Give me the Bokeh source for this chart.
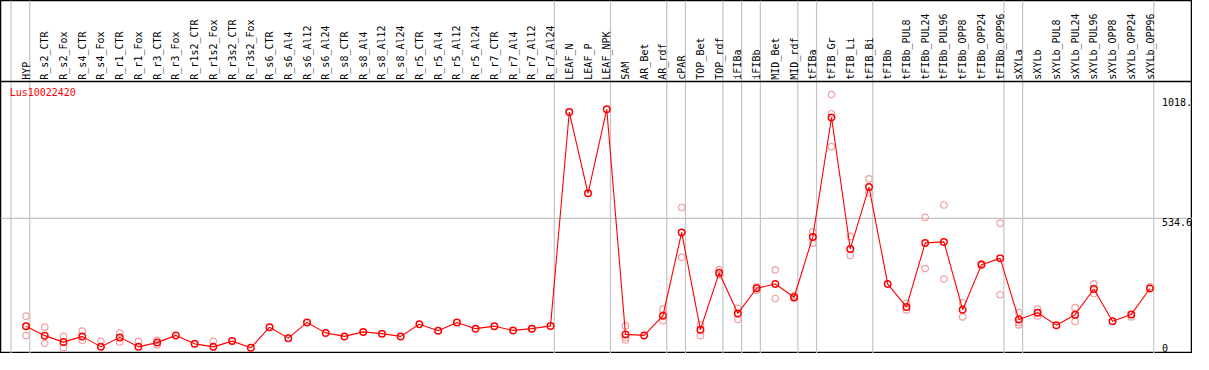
from bokeh.plotting import figure
from bokeh.models import Span, ColumnDataSource, Range1d
from bokeh.core.properties import value
from bokeh.embed import file_html
from bokeh.resources import INLINE
import math

title = "Lus10022420"

categories = [
    "HYP", "R_s2_CTR", "R_s2_Fox", "R_s4_CTR", "R_s4_Fox", "R_r1_CTR", "R_r1_Fox",
    "R_r3_CTR", "R_r3_Fox", "R_r1s2_CTR", "R_r1s2_Fox", "R_r3s2_CTR", "R_r3s2_Fox",
    "R_s6_CTR", "R_s6_Al4", "R_s6_Al12", "R_s6_Al24", "R_s8_CTR", "R_s8_Al4",
    "R_s8_Al12", "R_s8_Al24", "R_r5_CTR", "R_r5_Al4", "R_r5_Al12", "R_r5_Al24",
    "R_r7_CTR", "R_r7_Al4", "R_r7_Al12", "R_r7_Al24", "LEAF_N", "LEAF_P", "LEAF_NPK",
    "SAM", "AR_Bet", "AR_rdf", "cPAR", "TOP_Bet", "TOP_rdf", "iFIBa", "iFIBb",
    "MID_Bet", "MID_rdf", "tFIBa", "tFIB_Gr", "tFIB_Li", "tFIB_Bi", "tFIBb",
    "tFIBb_PUL8", "tFIBb_PUL24", "tFIBb_PUL96", "tFIBb_OPP8", "tFIBb_OPP24",
    "tFIBb_OPP96", "sXYLa", "sXYLb", "sXYLb_PUL8", "sXYLb_PUL24", "sXYLb_PUL96",
    "sXYLb_OPP8", "sXYLb_OPP24", "sXYLb_OPP96",
]

means = [
    102, 64, 38, 61, 19, 57, 19, 36, 65, 31, 19, 42, 15,
    98, 54, 117, 75, 61, 79, 72, 61, 110, 84, 117, 92,
    102, 85, 92, 103, 961, 635, 972,
    69, 65, 144, 478, 88, 316, 153, 254,
    271, 218, 460, 939, 412, 660, 271,
    179, 436, 440, 168, 348, 374,
    129, 156, 106, 148, 251, 122, 149, 253,
]

replicates = [
    [142, 65], [98, 33], [61, 16], [82, 45], [41], [74, 38], [41], [45, 27], [], [], [41], [], [],
    [], [], [], [], [], [], [], [], [], [], [], [],
    [], [], [], [], [], [], [],
    [103, 47, 56], [], [170, 124], [578, 378], [107, 64], [329, 309], [173, 129], [260, 245],
    [328, 213], [225, 213], [480, 435], [1031, 954, 822], [462, 385], [693, 637], [],
    [167, 194], [538, 333], [588, 291], [196, 139], [353], [515, 228],
    [157, 117, 107], [170, 143], [], [176, 121], [272, 233], [], [139], [260],
]

# categories after which a grey separator is drawn
separators_after = ["HYP", "R_r7_Al24", "LEAF_NPK", "AR_rdf", "cPAR", "TOP_rdf",
                    "iFIBa", "iFIBb", "MID_rdf", "tFIBa", "tFIB_Bi", "tFIBb_OPP96",
                    "sXYLa", "sXYLb_OPP96"]

y_ticks = [1018, 534.6, 0]
y_tick_labels = ["1018.", "534.6", "0"]

RED = "#ff0000"
PALE = "#f0a0a0"
GREY = "#c4c4c4"
FONT = value("DejaVu Sans Mono")

n = len(categories)
W, H = 1192, 353
# reference geometry: column width 19 px, first separator at 10.7 px, zero at 368 px
x_start = -10.7 / 19.0
x_end = (1209 - 10.7) / 19.0
ppu = 0.2613
y_top = 368 / ppu
y_bot = -2 / ppu
header_line = (368 - 85) / ppu
label_base = (368 - 83) / ppu

p = figure(width=W, height=H, output_backend="svg", toolbar_location=None,
           x_range=Range1d(x_start, x_end), y_range=Range1d(y_bot, y_top),
           min_border=0, min_border_left=0, min_border_right=0,
           min_border_top=0, min_border_bottom=0)
p.axis.visible = False
p.xaxis.visible = False
p.yaxis.visible = False
p.grid.visible = False
p.outline_line_color = "black"
p.outline_line_width = 1.5
p.background_fill_color = "white"
p.border_fill_color = "white"

# separators
p.add_layout(Span(location=0, dimension="height", line_color=GREY, line_width=1.2, level="underlay"))
for name in separators_after:
    k = categories.index(name) + 1
    p.add_layout(Span(location=k, dimension="height", line_color=GREY, line_width=1.2, level="underlay"))
p.add_layout(Span(location=534.6, dimension="width", line_color=GREY, line_width=1.2, level="underlay"))
p.add_layout(Span(location=header_line, dimension="width", line_color="black", line_width=1.5))

xs = [i + 0.8 for i in range(n)]

# header labels
p.text(x=xs, y=[label_base] * n, text=categories, angle=math.pi / 2,
       text_align="left", text_baseline="middle", text_font=FONT,
       text_font_size="10px", text_color="black")

# replicates
rx, ry = [], []
for i, reps in enumerate(replicates):
    for r in reps:
        rx.append(xs[i])
        ry.append(r)
p.scatter(rx, ry, marker="circle", size=6.5, fill_color=None, line_color=PALE, line_width=1.2)

# mean line and markers
src = ColumnDataSource(dict(x=xs, y=means))
p.line("x", "y", source=src, line_color=RED, line_width=1.1)
p.scatter("x", "y", source=src, marker="circle", size=6.5, fill_color=None,
          line_color=RED, line_width=1.5)

# value labels at the right
lx = (1178 - 10.7) / 19.0
p.text(x=[lx, lx], y=y_ticks[:2], text=y_tick_labels[:2], text_align="left",
       text_baseline="top", text_font=FONT, text_font_size="10px", text_color="black")
p.text(x=[lx], y=[y_ticks[2]], text=[y_tick_labels[2]], text_align="left",
       text_baseline="bottom", text_font=FONT, text_font_size="10px", text_color="black")

# title
p.text(x=[-1.4 / 19.0], y=[(368 - 96) / ppu], text=[title], text_align="left",
       text_baseline="middle", text_font=FONT, text_font_size="10px", text_color=RED)

open("out.html", "w").write(file_html(p, INLINE))
